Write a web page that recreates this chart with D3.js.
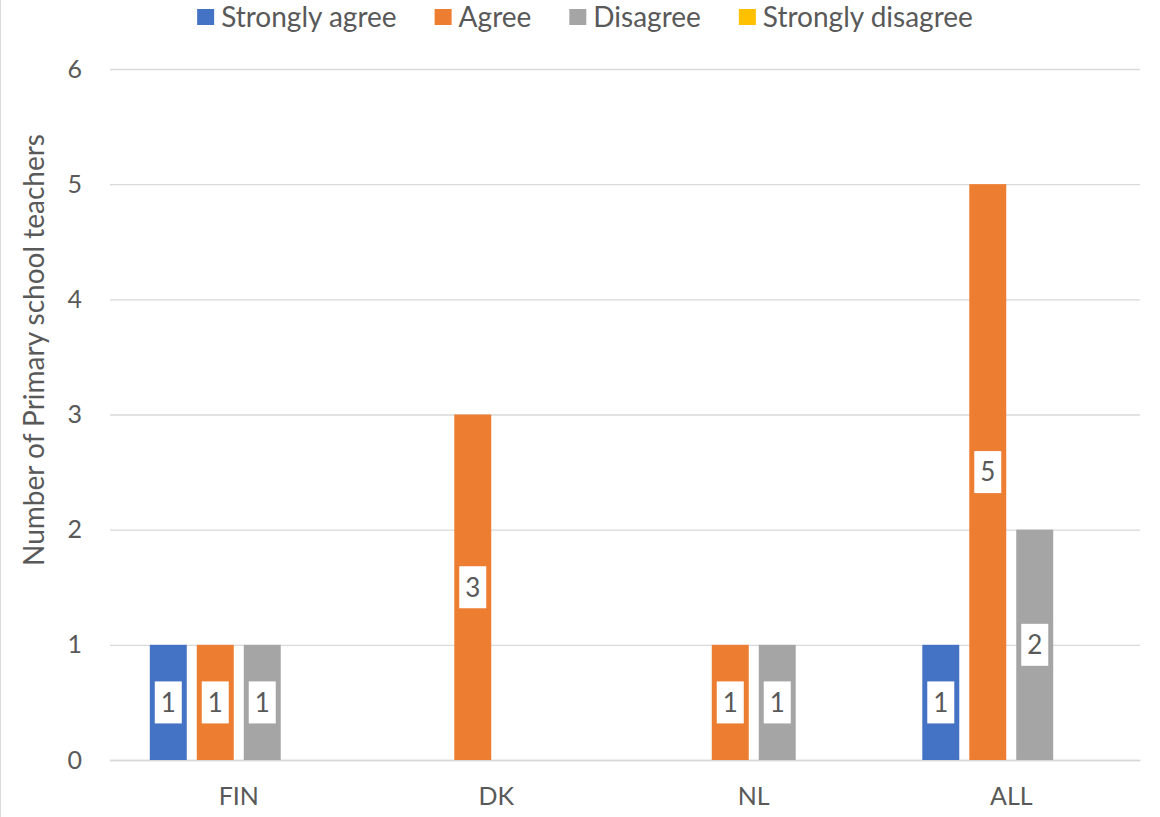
<!DOCTYPE html>
<html><head><meta charset="utf-8">
<script src="https://cdn.jsdelivr.net/npm/d3@7"></script>
<style>body{margin:0;background:#fff}svg{display:block}text{font-family:Lato,"Open Sans",sans-serif;fill:#595959}</style>
</head><body><svg id="c" width="1160" height="817"></svg>
<script>
const categories = ["FIN","DK","NL","ALL"];
const seriesNames = ["Strongly agree","Agree","Disagree","Strongly disagree"];
const stronglyAgree = [1,0,0,1];
const agree = [1,3,1,5];
const disagree = [1,0,1,2];
const stronglyDisagree = [0,0,0,0];
const yTicks = [0,1,2,3,4,5,6];
const colors = ["#4472C4","#ED7D31","#A5A5A5","#FFC000"];
const seriesValues = [stronglyAgree, agree, disagree, stronglyDisagree];

const svg = d3.select("#c");
const W=1160,H=817;
const m={left:110,right:1140,top:69,bottom:760};
svg.append("rect").attr("width",W).attr("height",H).attr("fill","#fff");
svg.append("line").attr("x1",0.5).attr("x2",0.5).attr("y1",0).attr("y2",H).attr("stroke","#d9d9d9");

const x0 = d3.scaleBand().domain(categories).range([m.left,m.right]).paddingInner(0.27).paddingOuter(0.135);
const x1 = d3.scaleBand().domain(seriesNames).range([0,x0.bandwidth()]).paddingInner(0.213).paddingOuter(0.107);
const y = d3.scaleLinear().domain([0,6]).range([m.bottom,m.top]);

const yAxis = d3.axisLeft(y).tickValues(yTicks).tickSize(-(m.right-m.left)).tickPadding(28).tickFormat(d3.format("d"));
const ga = svg.append("g").attr("transform",`translate(${m.left},0)`).call(yAxis);
ga.select(".domain").remove();
ga.selectAll(".tick line").attr("stroke","#d9d9d9").attr("stroke-width",1.3);
ga.selectAll(".tick text").style("font-size","25px").attr("fill","#595959");

const xAxis = d3.axisBottom(x0).tickSize(0).tickPadding(27);
const gx = svg.append("g").attr("transform",`translate(0,${m.bottom})`).call(xAxis);
gx.select(".domain").attr("stroke","#d9d9d9").attr("stroke-width",1.3);
gx.selectAll(".tick text").style("font-size","25px").attr("fill","#595959");

const data=[];
categories.forEach((c,i)=>seriesNames.forEach((s,j)=>data.push({c,s,j,v:seriesValues[j][i]})));
const bars = data.filter(d=>d.v>0);
svg.append("g").selectAll("rect").data(bars).join("rect")
 .attr("x",d=>x0(d.c)+x1(d.s)).attr("width",x1.bandwidth())
 .attr("y",d=>y(d.v)).attr("height",d=>y(0)-y(d.v)).attr("fill",d=>colors[d.j]);

const lg = svg.append("g").selectAll("g").data(bars).join("g")
 .attr("transform",d=>`translate(${x0(d.c)+x1(d.s)+x1.bandwidth()/2},${(y(0)+y(d.v))/2})`);
lg.append("rect").attr("x",-13.5).attr("y",-21).attr("width",27).attr("height",42).attr("fill","#fff");
lg.append("text").attr("text-anchor","middle").attr("dy","0.36em").style("font-size","26px").text(d=>d.v);

svg.append("text").attr("transform","translate(44,350) rotate(-90)").attr("text-anchor","middle")
 .style("font-size","28px").text("Number of Primary school teachers");

const leg = svg.append("g");
let xpos=0;
seriesNames.forEach((s,i)=>{
  const g=leg.append("g");
  g.append("rect").attr("x",0).attr("y",-8).attr("width",17).attr("height",16).attr("fill",colors[i]);
  const t=g.append("text").attr("x",24).attr("dy","0.36em").style("font-size","28px").text(s);
  const w=24+t.node().getComputedTextLength();
  g.attr("transform",`translate(${xpos},17)`);
  xpos+=w+38;
});
const totalW = xpos-38;
leg.attr("transform",`translate(${585-totalW/2},0)`);
</script></body></html>
